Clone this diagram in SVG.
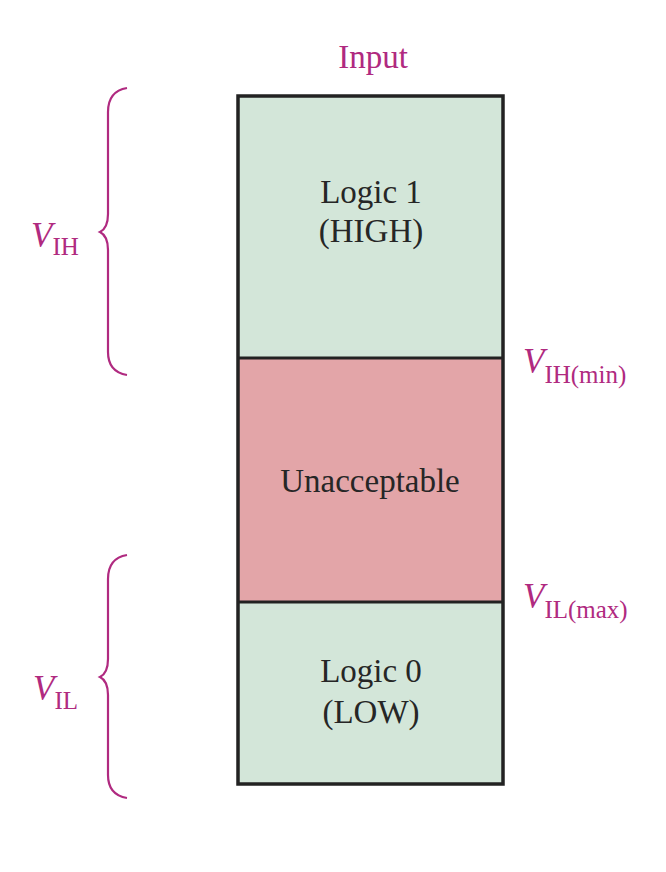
<svg xmlns="http://www.w3.org/2000/svg" width="666" height="872" viewBox="0 0 666 872">
<style>
.lbl{font-family:"Liberation Serif","Times New Roman",serif;font-size:33px;fill:#262626;text-anchor:middle}
.mag{font-family:"Liberation Serif","Times New Roman",serif;fill:#b02a80}
.v{font-style:italic;font-size:35px}
.sub{font-size:25px}
.brace{fill:none;stroke:#b02a80;stroke-width:2.2}
.edge{stroke:#222;stroke-width:3}
</style>
<rect width="666" height="872" fill="#ffffff"/>
<text class="mag" x="373" y="68" font-size="33" text-anchor="middle">Input</text>
<g id="high">
<rect x="238" y="96" width="265" height="262" fill="#d3e6d9"/>
<text class="lbl" x="371" y="203">Logic 1</text>
<text class="lbl" x="371" y="242">(HIGH)</text>
</g>
<g id="unacceptable">
<rect x="238" y="358" width="265" height="244" fill="#e3a5a8"/>
<text class="lbl" x="370" y="492">Unacceptable</text>
</g>
<g id="low">
<rect x="238" y="602" width="265" height="182" fill="#d3e6d9"/>
<text class="lbl" x="371" y="682">Logic 0</text>
<text class="lbl" x="371" y="723">(LOW)</text>
</g>
<g id="connectors">
<rect x="238" y="96" width="265" height="688" fill="none" stroke="#222" stroke-width="3.5"/>
<line class="edge" x1="238" y1="358" x2="503" y2="358" stroke-width="2"/>
<line class="edge" x1="238" y1="602" x2="503" y2="602" stroke-width="2"/>
<path class="brace" d="M127,88 C115,90 108,98 108,112 L108,214 C108,225 104,230 100,232 C104,234 108,239 108,250 L108,352 C108,366 115,373 127,375"/>
<path class="brace" d="M127,555 C115,557 108,565 108,579 L108,659 C108,670 104,675 100,677 C104,679 108,684 108,695 L108,775 C108,789 115,796 127,798"/>
</g>
<g id="v-ih">
<text class="mag" x="31" y="247"><tspan class="v">V</tspan><tspan class="sub" dy="8">IH</tspan></text>
</g>
<g id="v-il">
<text class="mag" x="33" y="700"><tspan class="v">V</tspan><tspan class="sub" dy="9">IL</tspan></text>
</g>
<g id="v-ih-min">
<text class="mag" x="523" y="373"><tspan class="v">V</tspan><tspan class="sub" dy="10">IH(min)</tspan></text>
</g>
<g id="v-il-max">
<text class="mag" x="523" y="608"><tspan class="v">V</tspan><tspan class="sub" dy="10">IL(max)</tspan></text>
</g>
</svg>
